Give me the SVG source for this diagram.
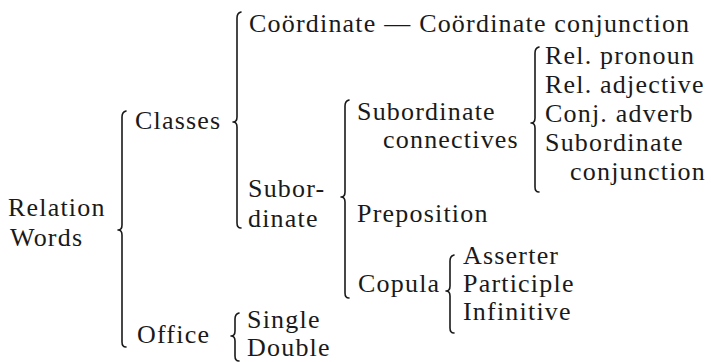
<svg xmlns="http://www.w3.org/2000/svg" width="711" height="362" viewBox="0 0 711 362">
<style>
.t{font-size:26px;letter-spacing:1.2px;fill:#1a1a1a}
.br{fill:none;stroke:#1a1a1a;stroke-width:1.6;stroke-linecap:round;stroke-linejoin:round}
</style>
<rect width="711" height="362" fill="#ffffff"/>
<g id="connectors">
<path class="br" d="M126,111 Q122,112 122,117 L122,225 Q122,230 118,230 Q122,230 122,235 L122,342 Q122,347 126,347"/>
<path class="br" d="M241,12 Q237,13 237,18 L237,117 Q237,122 233,122 Q237,122 237,127 L237,223 Q237,228 241,228"/>
<path class="br" d="M349,100 Q345,101 345,106 L345,192 Q345,197 341,197 Q345,197 345,202 L345,293 Q345,298 349,298"/>
<path class="br" d="M539,47 Q535,48 535,53 L535,118 Q535,123 531,123 Q535,123 535,128 L535,187 Q535,192 539,192"/>
<path class="br" d="M454,255 Q450,256 450,261 L450,286 Q450,291 446,291 Q450,291 450,296 L450,328 Q450,333 454,333"/>
<path class="br" d="M239,313 Q235,314 235,319 L235,331 Q235,336 231,336 Q235,336 235,341 L235,356 Q235,361 239,361"/>
</g>
<g class="t" font-family="Liberation Serif, Times New Roman, serif">
<g id="root"><text x="8" y="216">Relation</text><text x="10" y="246">Words</text></g>
<g id="classes"><text x="135" y="129">Classes</text></g>
<g id="office"><text x="137" y="343">Office</text></g>
<g id="coordinate"><text x="249" y="32">Coördinate — Coördinate conjunction</text></g>
<g id="subordinate"><text x="248" y="197">Subor-</text><text x="248" y="227">dinate</text></g>
<g id="single"><text x="247" y="328">Single</text></g>
<g id="double"><text x="247" y="356">Double</text></g>
<g id="sub-connectives"><text x="357" y="120">Subordinate</text><text x="383" y="148">connectives</text></g>
<g id="preposition"><text x="357" y="222">Preposition</text></g>
<g id="copula"><text x="358" y="292">Copula</text></g>
<g id="asserter"><text x="463" y="264">Asserter</text></g>
<g id="participle"><text x="463" y="292">Participle</text></g>
<g id="infinitive"><text x="463" y="320">Infinitive</text></g>
<g id="rel-pronoun"><text x="545" y="64">Rel. pronoun</text></g>
<g id="rel-adjective"><text x="545" y="93">Rel. adjective</text></g>
<g id="conj-adverb"><text x="545" y="122">Conj. adverb</text></g>
<g id="sub-conjunction"><text x="545" y="151">Subordinate</text><text x="570" y="180">conjunction</text></g>
</g>
</svg>
